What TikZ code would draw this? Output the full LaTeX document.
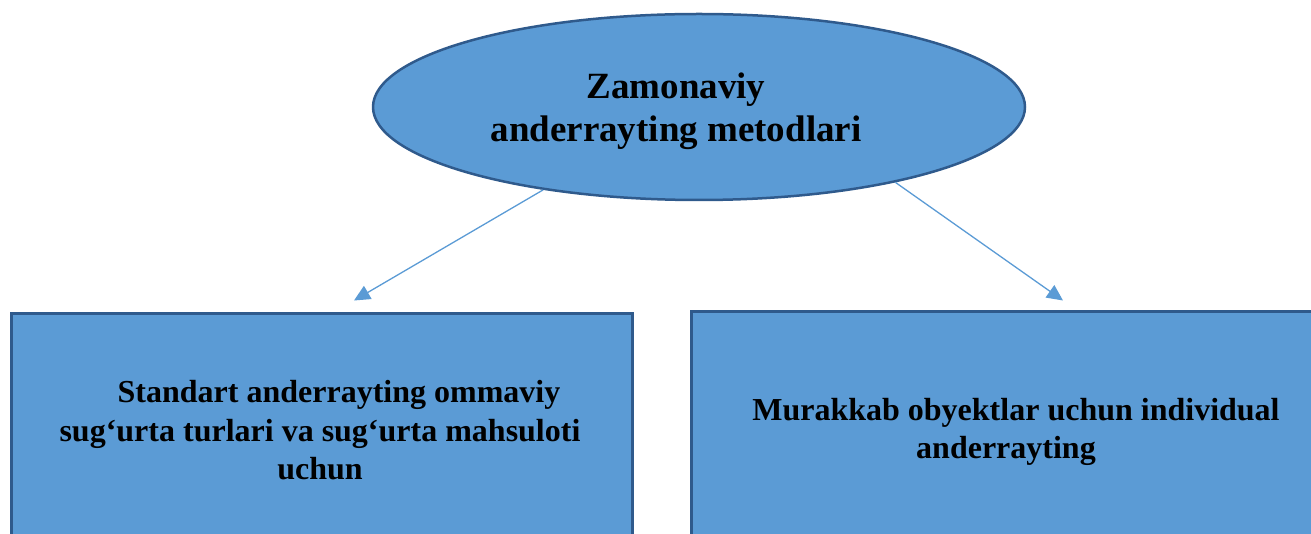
\documentclass[tikz,border=0pt]{standalone}
\usepackage{fontspec}
\setmainfont{Liberation Serif}
\usetikzlibrary{arrows.meta,shapes.geometric}
\definecolor{fillblue}{HTML}{5B9BD5}
\definecolor{edgeblue}{HTML}{2F5A8C}
\tikzset{
  topell/.style={ellipse, draw=edgeblue, fill=fillblue, line width=2.5pt, minimum width=652pt, minimum height=186pt, inner sep=0pt},
  bluebox/.style={rectangle, draw=edgeblue, fill=fillblue, line width=3pt, inner sep=0pt},
  bigtxt/.style={anchor=base, inner sep=0pt, font=\fontsize{37}{44}\selectfont\bfseries},
  boxtxt/.style={anchor=base, inner sep=0pt, font=\fontsize{32}{38}\selectfont\bfseries},
  conn/.style={draw=fillblue, line width=1.3pt, -{Triangle[length=16pt,width=15pt]}}
}
\begin{document}
\begin{tikzpicture}[x=1pt,y=1pt]
\useasboundingbox (0,0) rectangle (1311,533);
\node[topell] (ell) at (699,426) {};
\node[bluebox, minimum width=621pt, minimum height=228pt] (lbox) at (321.5,105) {};
\node[bluebox, minimum width=631pt, minimum height=232pt] (rbox) at (1006.5,105) {};
\node[bigtxt] (e1) at (676,434) {Zamonaviy};
\node[bigtxt] (e2) at (676,391) {anderrayting metodlari};
\node[boxtxt] (l1) at (339,131) {Standart anderrayting ommaviy};
\node[boxtxt] (l2) at (320,92) {sug‘urta turlari va sug‘urta mahsuloti};
\node[boxtxt] (l3) at (320,54) {uchun};
\node[boxtxt] (r1) at (1016,113) {Murakkab obyektlar uchun individual};
\node[boxtxt] (r2) at (1006,75) {anderrayting};
\coordinate (tipL) at (354,232.5);
\coordinate (tipR) at (1063,232.5);
\draw[conn] (ell.208.6) -- (tipL);
\draw[conn] (ell.-21.9) -- (tipR);
\end{tikzpicture}
\end{document}
